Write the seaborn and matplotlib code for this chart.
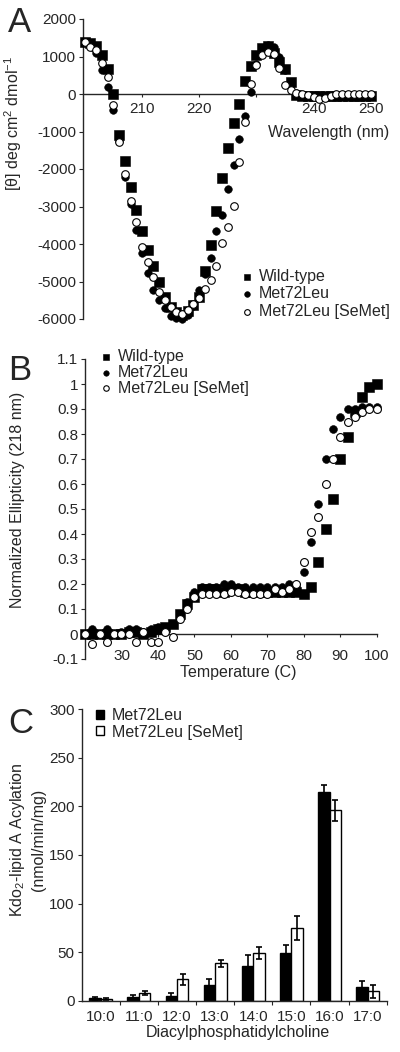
import matplotlib
matplotlib.use("Agg")
import matplotlib.pyplot as plt
import numpy as np
import pandas as pd
import seaborn as sns

# ---------------- Panel A data: CD spectra ----------------
wavelength = list(range(200, 251))
wt_a = [1400, 1350, 1270, 1050, 680, 0, -1080, -1780, -2480, -3100,
        -3640, -4150, -4590, -5020, -5400, -5680, -5820, -5900, -5780, -5620,
        -5400, -4720, -4020, -3130, -2230, -1440, -780, -270, 360, 760,
        1040, 1220, 1280, 1100, 860, 660, 330, -20, -50, -60,
        -60, -60, -60, -50, -50, -50, -50, -40, -40, -40,
        -40]
met_a = [1400, 1300, 1100, 650, 200, -420, -1250, -2200, -2930, -3620,
         -4250, -4780, -5220, -5480, -5700, -5920, -5980, -6000, -5900, -5650,
         -5230, -4800, -4380, -3650, -3230, -2520, -1890, -1210, -590, 60,
         800, 1200, 1300, 1250, 1000, 650, 250, 30, -30, -50,
         -60, -60, -60, -50, -50, -40, -40, -40, -40, -40,
         -40]
semet_a = [1400, 1260, 1170, 835, 460, -293, -1270, -2120, -2850, -3400,
           -4090, -4470, -4870, -5270, -5500, -5670, -5800, -5870, -5760, -5600,
           -5430, -5200, -4960, -4590, -3960, -3540, -2990, -1805, -739, 259,
           773, 1040, 1130, 1080, 685, 240, 107, 20, 0, -30,
           -70, -140, -100, -50, 0, 0, 0, 10, 10, 10,
           10]
a_xticks = [210, 220, 230, 240, 250]
a_xticklabels = ["210", "220", "", "240", "250"]
a_yticks = [-6000, -5000, -4000, -3000, -2000, -1000, 0, 1000, 2000]
a_yticklabels = ["-6000", "-5000", "-4000", "-3000", "-2000", "-1000", "0", "1000", "2000"]

# ---------------- Panel B data: thermal melts ----------------
temperature = list(range(20, 101, 2))
wt_b = [0, 0, 0, 0, 0, 0, 0.01, 0.01, 0, 0.01,
        0.02, 0.03, 0.04, 0.08, 0.12, 0.15, 0.18, 0.18, 0.18, 0.17,
        0.18, 0.18, 0.17, 0.17, 0.17, 0.17, 0.17, 0.17, 0.17, 0.17,
        0.16, 0.19, 0.29, 0.42, 0.54, 0.70, 0.79, 0.89, 0.95, 0.99,
        1.0]
met_b = [0, 0.02, 0, 0.02, 0, 0.01, 0.02, 0.02, 0.01, 0.02,
         0.03, 0.03, 0.04, 0.08, 0.13, 0.17, 0.19, 0.19, 0.19, 0.20,
         0.20, 0.19, 0.19, 0.19, 0.19, 0.19, 0.19, 0.19, 0.20, 0.19,
         0.25, 0.37, 0.52, 0.70, 0.82, 0.87, 0.90, 0.90, 0.91, 0.91,
         0.91]
semet_b = [0, -0.04, 0, -0.03, 0, 0, 0, -0.03, 0.01, -0.03,
           -0.03, 0.01, -0.01, 0.06, 0.10, 0.15, 0.16, 0.16, 0.16, 0.16,
           0.17, 0.17, 0.16, 0.16, 0.16, 0.16, 0.18, 0.17, 0.18, 0.20,
           0.29, 0.41, 0.47, 0.60, 0.70, 0.79, 0.85, 0.87, 0.89, 0.90,
           0.90]
b_xticks = [30, 40, 50, 60, 70, 80, 90, 100]
b_yticks = [-0.1, 0, 0.1, 0.2, 0.3, 0.4, 0.5, 0.6, 0.7, 0.8, 0.9, 1.0, 1.1]
b_yticklabels = ["-0.1", "0", "0.1", "0.2", "0.3", "0.4", "0.5", "0.6",
                 "0.7", "0.8", "0.9", "1", "1.1"]

# ---------------- Panel C data: acylation activity ----------------
chains = ["10:0", "11:0", "12:0", "13:0", "14:0", "15:0", "16:0", "17:0"]
met_c = [2.5, 3.5, 5, 16, 36, 49, 215, 14]
met_c_err = [1.5, 2, 2.5, 6, 11, 8, 7, 6]
semet_c = [1.7, 7.5, 22, 38.5, 49, 75, 196, 9.5]
semet_c_err = [1, 2, 6, 3.5, 6, 12.5, 10.5, 7]
c_yticks = [0, 50, 100, 150, 200, 250, 300]

series_names = ["Wild-type", "Met72Leu", "Met72Leu [SeMet]"]

# ---------------- style ----------------
sns.set_style("ticks")
plt.rcParams["font.family"] = ["Liberation Sans", "DejaVu Sans"]
plt.rcParams["mathtext.fontset"] = "custom"
plt.rcParams["mathtext.rm"] = "Liberation Sans"
plt.rcParams["mathtext.it"] = "Liberation Sans:italic"
plt.rcParams["mathtext.bf"] = "Liberation Sans:bold"
plt.rcParams["axes.unicode_minus"] = False
plt.rcParams["axes.linewidth"] = 1.0

W, H = 400, 1052
fig = plt.figure(figsize=(W / 100, H / 100), dpi=100)

def axes_px(l, t, r, b):
    return fig.add_axes([l / W, 1 - b / H, (r - l) / W, (b - t) / H])

def ftext(x, y, s, **kw):
    return fig.text(x / W, 1 - y / H, s, **kw)

FS = 11.5
TFS = 11

def scatter_three(ax, x, ys, sizes):
    sns.scatterplot(x=x, y=ys[0], marker="s", s=sizes[0], color="black",
                    edgecolor="black", linewidth=0.4, ax=ax, label=series_names[0],
                    clip_on=False, zorder=3)
    sns.scatterplot(x=x, y=ys[1], marker="o", s=sizes[1], color="black",
                    edgecolor="black", linewidth=0.4, ax=ax, label=series_names[1],
                    clip_on=False, zorder=4)
    sns.scatterplot(x=x, y=ys[2], marker="o", s=sizes[2], color="white",
                    edgecolor="black", linewidth=0.8, ax=ax, label=series_names[2],
                    clip_on=False, zorder=5)

# ---------------- Panel A ----------------
axA = axes_px(83, 19, 373.5, 319)
scatter_three(axA, wavelength, [wt_a, met_a, semet_a], [42, 30, 30])
axA.set_xlim(199.69, 250.47)
axA.set_ylim(-6000, 2000)
axA.spines["top"].set_visible(False)
axA.spines["right"].set_visible(False)
axA.spines["bottom"].set_position(("data", 0))
axA.set_xticks(a_xticks)
axA.set_xticklabels(a_xticklabels)
axA.set_yticks(a_yticks)
axA.set_yticklabels(a_yticklabels)
axA.tick_params(axis="x", direction="out", length=2.5, width=0.8, pad=3, labelsize=TFS)
axA.tick_params(axis="y", direction="out", length=3, width=0.8, pad=2, labelsize=TFS)
axA.set_xlabel("")
axA.set_ylabel("")
axA.legend(loc="upper left", bbox_to_anchor=(241 / W, 1 - 269 / H),
           bbox_transform=fig.transFigure, frameon=False, fontsize=FS,
           handlelength=0.8, handletextpad=0.3, labelspacing=0.15,
           borderpad=0, borderaxespad=0, markerscale=0.75)
ftext(13, 123, r"[θ] deg cm$^{2}$ dmol$^{-1}$", rotation=90, ha="center",
      va="center", fontsize=FS)
ftext(329, 133, "Wavelength (nm)", ha="center", va="center", fontsize=FS)
ftext(8, 32, "A", fontsize=25, ha="left", va="baseline")

# ---------------- Panel B ----------------
axB = axes_px(85, 359, 376.7, 659)
scatter_three(axB, temperature, [wt_b, met_b, semet_b], [46, 32, 32])
axB.set_xlim(20, 100)
axB.set_ylim(-0.1, 1.1)
axB.spines["top"].set_visible(False)
axB.spines["right"].set_visible(False)
axB.spines["bottom"].set_position(("data", 0))
axB.set_xticks(b_xticks)
axB.set_yticks(b_yticks)
axB.set_yticklabels(b_yticklabels)
axB.tick_params(axis="x", direction="out", length=2.5, width=0.8, pad=8, labelsize=TFS)
axB.tick_params(axis="y", direction="out", length=3, width=0.8, pad=2, labelsize=TFS)
axB.set_xlabel("")
axB.set_ylabel("")
axB.legend(loc="upper left", bbox_to_anchor=(100 / W, 1 - 349 / H),
           bbox_transform=fig.transFigure, frameon=False, fontsize=FS,
           handlelength=0.8, handletextpad=0.3, labelspacing=0.05,
           borderpad=0, borderaxespad=0, markerscale=0.7)
ftext(17.5, 500, "Normalized Ellipticity (218 nm)", rotation=90, ha="center",
      va="center", fontsize=FS)
ftext(238.5, 673, "Temperature (C)", ha="center", va="center", fontsize=FS)
ftext(8, 380, "B", fontsize=25, ha="left", va="baseline")

# ---------------- Panel C ----------------
axC = axes_px(81.7, 709.3, 386.7, 1000.7)
df = pd.DataFrame({
    "chain": chains * 2,
    "rate": met_c + semet_c,
    "protein": ["Met72Leu"] * len(chains) + ["Met72Leu [SeMet]"] * len(chains),
})
sns.barplot(data=df, x="chain", y="rate", hue="protein",
            palette={"Met72Leu": "black", "Met72Leu [SeMet]": "white"},
            edgecolor="black", linewidth=1.0, width=0.6, saturation=1,
            errorbar=None, ax=axC)
for cont, vals, errs in zip(axC.containers, [met_c, semet_c], [met_c_err, semet_c_err]):
    xs = [p.get_x() + p.get_width() / 2 for p in cont]
    axC.errorbar(xs, vals, yerr=errs, fmt="none", ecolor="black",
                 elinewidth=1.2, capsize=2.5, capthick=1.2, zorder=5)
axC.set_xlim(-0.5, 7.5)
axC.set_ylim(0, 300)
axC.spines["top"].set_visible(False)
axC.spines["right"].set_visible(False)
axC.set_yticks(c_yticks)
axC.set_xticks(range(len(chains)))
axC.set_xticklabels(chains)
axC.set_xticks([i + 0.5 for i in range(len(chains))], minor=True)
axC.tick_params(axis="x", which="major", length=0, pad=7, labelsize=TFS)
axC.tick_params(axis="x", which="minor", direction="out", length=3, width=0.8)
axC.tick_params(axis="y", direction="out", length=3, width=0.8, pad=2, labelsize=TFS)
axC.set_xlabel("")
axC.set_ylabel("")
axC.legend(handles=list(axC.containers), labels=["Met72Leu", "Met72Leu [SeMet]"],
           loc="upper left", bbox_to_anchor=(96 / W, 1 - 708 / H),
           bbox_transform=fig.transFigure, frameon=False, fontsize=FS,
           handlelength=0.5, handleheight=0.5, handletextpad=0.5,
           labelspacing=0.1, borderpad=0, borderaxespad=0)
ftext(27, 840, "Kdo$_{2}$-lipid A Acylation\n(nmol/min/mg)", rotation=90,
      ha="center", va="center", fontsize=FS, multialignment="center",
      linespacing=1.3)
ftext(237.5, 1033, "Diacylphosphatidylcholine", ha="center", va="center", fontsize=FS)
ftext(8, 733, "C", fontsize=25, ha="left", va="baseline")

fig.savefig("out.png", dpi=100)
